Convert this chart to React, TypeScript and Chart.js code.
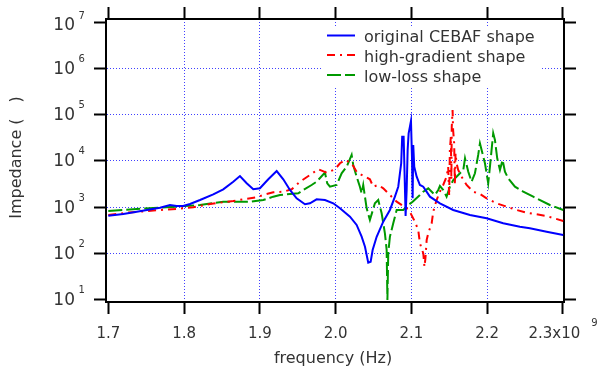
import React, { useEffect, useRef } from "react";
import { Chart, registerables } from "chart.js";

Chart.register(...registerables);

// ---------- data (frequency in units of 10^9 Hz, impedance in ohm) ----------
const seriesNames = ["original CEBAF shape", "high-gradient shape", "low-loss shape"];

const freqOriginal = [
  1.700, 1.7198, 1.7375, 1.7682, 1.7814, 1.7902, 1.7989, 1.8078, 1.8210, 1.8385,
  1.8517, 1.8649, 1.8737, 1.8826, 1.8913, 1.9001, 1.9111, 1.9222, 1.9309, 1.9397,
  1.9485, 1.9595, 1.9661, 1.9749, 1.9859, 1.9968, 2.0057, 2.0189, 2.0277, 2.0343,
  2.0387, 2.0430, 2.0462, 2.0488, 2.0541, 2.0628, 2.0716, 2.0782, 2.0826, 2.0848,
  2.0865, 2.0878, 2.0897, 2.0910, 2.0923, 2.0937, 2.0950, 2.0963, 2.0980, 2.0994,
  2.1007, 2.1016, 2.1024, 2.1037, 2.1069, 2.1112, 2.1156, 2.1244, 2.1376, 2.1551,
  2.1772, 2.1992, 2.2211, 2.2431, 2.2563, 2.2784, 2.3003,
];
const impOriginal = [
  660, 718, 805, 982, 1122, 1069, 1069, 1180, 1439, 1910,
  2449, 3573, 4742, 3304, 2449, 2575, 4027, 6081, 4027, 2366,
  1567, 1164, 1222, 1490, 1439, 1222, 953, 628, 416, 232,
  141, 64, 67, 120, 232, 490, 877, 1698, 2788, 5428,
  8926, 33500, 33500, 4988, 650, 2366, 17300, 39600, 55000, 73000,
  12400, 1567, 22200, 7530, 4580, 3034, 2788, 1698, 1222, 877,
  684, 580, 452, 382, 353, 298, 253,
];

const freqHighGradient = [
  1.700, 1.7243, 1.7418, 1.7682, 1.7902, 1.8121, 1.8342, 1.8649, 1.8781, 1.8958,
  1.9045, 1.9177, 1.9309, 1.9420, 1.9529, 1.9661, 1.9770, 1.9881, 1.9991, 2.0057,
  2.0123, 2.0211, 2.0277, 2.0343, 2.0452, 2.0496, 2.0562, 2.0628, 2.0694, 2.0760,
  2.0805, 2.0937, 2.0989, 2.1046, 2.1090, 2.1112, 2.1156, 2.1172, 2.1185, 2.1201,
  2.1222, 2.1267, 2.1288, 2.1332, 2.1376, 2.1419, 2.1464, 2.1485, 2.1498, 2.1507,
  2.1520, 2.1527, 2.1532, 2.1543, 2.1550, 2.1564, 2.1573, 2.1582, 2.1596, 2.1617,
  2.1662, 2.1728, 2.1815, 2.1904, 2.1992, 2.2124, 2.2256, 2.2388, 2.2520, 2.2784,
  2.3003,
];
const impHighGradient = [
  684, 766, 805, 877, 921, 1002, 1180, 1371, 1493, 1649,
  1847, 2112, 2177, 2449, 3573, 4988, 6622, 5598, 6622, 8926,
  10520, 8926, 5875, 4988, 4027, 2788, 3034, 2575, 2009, 1567,
  1324, 953, 743, 490, 324, 167, 102, 52, 81, 197,
  275, 453, 805, 1439, 2177, 3034, 4580, 7530, 1758, 17300,
  33500, 3890, 55000, 126000, 46700, 24100, 3034, 14700, 8926, 6397,
  4580, 3034, 2177, 1941, 1567, 1222, 1033, 877, 766, 650,
  507,
];

const freqLowLoss = [
  1.700, 1.7330, 1.7770, 1.8210, 1.8517, 1.8869, 1.9045, 1.9177, 1.9265, 1.9397,
  1.9507, 1.9573, 1.9683, 1.9749, 1.9859, 1.9889, 1.9925, 2.0013, 2.0079, 2.0145,
  2.0211, 2.0232, 2.0277, 2.0320, 2.0343, 2.0364, 2.0409, 2.0452, 2.0518, 2.0562,
  2.0607, 2.0650, 2.0673, 2.0683, 2.0694, 2.0716, 2.0760, 2.0805, 2.0892, 2.0958,
  2.1016, 2.1112, 2.1156, 2.1222, 2.1310, 2.1354, 2.1376, 2.1420, 2.1464, 2.1508,
  2.1552, 2.1618, 2.1684, 2.1707, 2.1750, 2.1794, 2.1838, 2.1881, 2.1904, 2.1926,
  2.1970, 2.2013, 2.2036, 2.2079, 2.2102, 2.2132, 2.2168, 2.2203, 2.2234, 2.2277,
  2.2366, 2.2475, 2.2607, 2.2827, 2.3003,
];
const impLowLoss = [
  834, 908, 1002, 1122, 1324, 1324, 1439, 1698, 1847, 1941,
  2009, 2366, 3034, 3573, 5598, 3304, 2788, 3034, 5428, 7530,
  13500, 8200, 4580, 2788, 2009, 3034, 953, 533, 1222, 1439,
  743, 275, 120, 10, 102, 232, 453, 877, 877, 1122,
  1324, 1847, 2177, 2575, 1847, 2366, 2891, 2366, 1698, 2788,
  3890, 4988, 6397, 11430, 5875, 3573, 5428, 13500, 24100, 17300,
  8926, 3304, 7530, 39600, 28400, 11430, 6397, 10520, 5875, 4236,
  2788, 2177, 1698, 1122, 877,
];

const xTickValues = [1.7, 1.8, 1.9, 2.0, 2.1, 2.2, 2.3];
const xTickLabels = ["1.7", "1.8", "1.9", "2.0", "2.1", "2.2", "2.3x10"];
const xTickExponent = "9";
const yTickValues = [1e1, 1e2, 1e3, 1e4, 1e5, 1e6, 1e7];
const yTickExponents = ["1", "2", "3", "4", "5", "6", "7"];
const xTitle = "frequency (Hz)";
const yTitle = "Impedance (\u2003)";

// ---------- styles ----------
const FONT = '"DejaVu Sans", sans-serif';
const TEXT = "#333333";
const GRID = "rgb(64,64,255)";
const colors = ["#0000ff", "#ff0000", "#009900"];
const dashes: number[][] = [[], [8, 5, 2, 5], [14, 4]];

const X_MIN = 1.69696;
const X_MAX = 2.30132;
const Y_MIN = 9.05;
const Y_MAX = 1.161e7;

const toPoints = (xs: number[], ys: number[]) => xs.map((x, i) => ({ x, y: ys[i] }));

const decor = {
  id: "decor",
  afterDraw(chart: any) {
    const ctx = chart.ctx as CanvasRenderingContext2D;
    const xs = chart.scales.x;
    const ys = chart.scales.y;
    const area = chart.chartArea;
    ctx.save();
    ctx.fillStyle = TEXT;

    // y tick labels: 10^n
    yTickValues.forEach((v, i) => {
      const py = ys.getPixelForValue(v);
      const cy = i === yTickValues.length - 1 ? py + 4 : py + 1;
      ctx.font = `17px ${FONT}`;
      ctx.textAlign = "right";
      ctx.textBaseline = "middle";
      ctx.fillText("10", 75, cy);
      ctx.font = `10px ${FONT}`;
      ctx.textAlign = "left";
      ctx.textBaseline = "alphabetic";
      ctx.fillText(yTickExponents[i], 78.5, cy - 7.5);
    });

    // x tick labels
    ctx.textBaseline = "alphabetic";
    xTickValues.forEach((v, i) => {
      const px = xs.getPixelForValue(v);
      const label = xTickLabels[i];
      if (i === xTickValues.length - 1) {
        ctx.font = `15px ${FONT}`;
        const w1 = ctx.measureText(label).width;
        ctx.font = `10px ${FONT}`;
        const w2 = ctx.measureText(xTickExponent).width;
        const gap = 11;
        const start = px - (w1 + gap + w2) / 2;
        ctx.font = `15px ${FONT}`;
        ctx.textAlign = "left";
        ctx.fillText(label, start, 337.5);
        ctx.font = `10px ${FONT}`;
        ctx.fillText(xTickExponent, start + w1 + gap, 325.5);
      } else {
        ctx.font = `15px ${FONT}`;
        ctx.textAlign = "center";
        ctx.fillText(label, px, 337.5);
      }
    });

    // axis titles
    ctx.font = `16px ${FONT}`;
    ctx.textAlign = "center";
    ctx.fillText(xTitle, (area.left + area.right) / 2 - 2, 363);
    ctx.save();
    ctx.translate(21, 157.5);
    ctx.rotate(-Math.PI / 2);
    ctx.fillText(yTitle, 0, 0);
    ctx.restore();

    // legend
    ctx.fillStyle = "#ffffff";
    ctx.fillRect(323, 27, 218, 61);
    const rows = [35.5, 55, 75];
    seriesNames.forEach((name, i) => {
      ctx.save();
      ctx.strokeStyle = colors[i];
      ctx.lineWidth = 2;
      ctx.setLineDash(dashes[i]);
      ctx.beginPath();
      ctx.moveTo(327, rows[i]);
      ctx.lineTo(355, rows[i]);
      ctx.stroke();
      ctx.restore();
      ctx.fillStyle = TEXT;
      ctx.font = `16px ${FONT}`;
      ctx.textAlign = "left";
      ctx.textBaseline = "alphabetic";
      ctx.fillText(name, 364, rows[i] + 6.5);
    });
    ctx.restore();
  },
};

const hideEdge = (edgeVals: number[]) => (c: any) =>
  c.tick && edgeVals.some((e) => Math.abs(c.tick.value - e) < 1e-9 * Math.max(1, e)) ? "rgba(0,0,0,0)" : GRID;

export default function App() {
  const ref = useRef<HTMLCanvasElement | null>(null);
  useEffect(() => {
    if (!ref.current) return;
    const datasets = [
      toPoints(freqOriginal, impOriginal),
      toPoints(freqHighGradient, impHighGradient),
      toPoints(freqLowLoss, impLowLoss),
    ].map((data, i) => ({
      label: seriesNames[i],
      data,
      borderColor: colors[i],
      borderWidth: 2,
      borderDash: dashes[i],
      pointRadius: 0,
      fill: false,
      tension: 0,
      xAxisID: "x",
      yAxisID: "y",
    }));

    const xTicks = (s: any) => {
      s.ticks = xTickValues.map((v) => ({ value: v }));
    };
    const yTicks = (s: any) => {
      s.ticks = yTickValues.map((v) => ({ value: v, major: true }));
    };
    const tickGrid = (onArea: boolean, color: any) => ({
      display: true,
      drawOnChartArea: onArea,
      drawTicks: true,
      tickLength: 12,
      tickWidth: 2,
      tickColor: "#000000",
      lineWidth: 1,
      color,
    });
    const border = { display: true, color: "#000000", width: 2, dash: [1, 2] };

    const chart = new Chart(ref.current, {
      type: "line",
      data: { datasets },
      options: {
        responsive: false,
        animation: false,
        layout: { padding: 0 },
        plugins: { legend: { display: false }, tooltip: { enabled: false } },
        scales: {
          x: {
            type: "linear",
            position: "bottom",
            min: X_MIN,
            max: X_MAX,
            afterBuildTicks: xTicks,
            afterFit: (s: any) => { s.height = 69; },
            ticks: { display: false },
            grid: tickGrid(true, hideEdge([1.7, 2.3])),
            border,
          },
          x2: {
            type: "linear",
            position: "top",
            min: X_MIN,
            max: X_MAX,
            afterBuildTicks: xTicks,
            afterFit: (s: any) => { s.height = 19; },
            ticks: { display: false },
            grid: tickGrid(false, GRID),
            border,
          },
          y: {
            type: "logarithmic",
            position: "left",
            min: Y_MIN,
            max: Y_MAX,
            afterBuildTicks: yTicks,
            afterFit: (s: any) => { s.width = 106; },
            ticks: { display: false },
            grid: tickGrid(true, hideEdge([10, 1e7])),
            border,
          },
          y2: {
            type: "logarithmic",
            position: "right",
            min: Y_MIN,
            max: Y_MAX,
            afterBuildTicks: yTicks,
            afterFit: (s: any) => { s.width = 33; },
            ticks: { display: false },
            grid: tickGrid(false, GRID),
            border,
          },
        },
      } as any,
      plugins: [decor],
    });
    return () => chart.destroy();
  }, []);

  return (
    <div style={{ position: "absolute", left: 0, top: 0, width: 597, height: 371, background: "#fff" }}>
      <canvas ref={ref} width={597} height={371} style={{ display: "block", width: 597, height: 371 }} />
    </div>
  );
}
